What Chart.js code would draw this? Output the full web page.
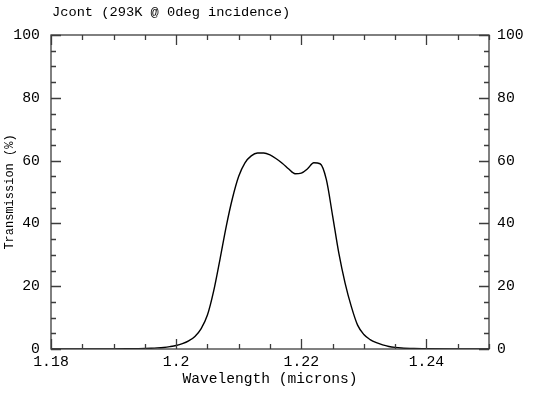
<!DOCTYPE html>
<html>
<head>
<meta charset="utf-8">
<script src="https://cdn.jsdelivr.net/npm/chart.js@4"></script>
<style>
html, body { margin: 0; padding: 0; background: #fff; }
#wrap { width: 536px; height: 395px; }
</style>
</head>
<body>
<div id="wrap"><canvas id="chart"></canvas></div>
<script>
const chartTitle = 'Jcont (293K @ 0deg incidence)';

const wavelength = [
	1.180, 1.185, 1.190, 1.192, 1.194, 1.196, 1.197, 1.198, 1.199,
	1.200, 1.201, 1.202, 1.203, 1.204, 1.205, 1.206, 1.207, 1.208, 1.209,
	1.210, 1.211, 1.212, 1.213, 1.214, 1.215, 1.216, 1.217, 1.218, 1.219,
	1.220, 1.221, 1.222, 1.223, 1.224, 1.225, 1.226, 1.227, 1.228, 1.229,
	1.230, 1.231, 1.232, 1.233, 1.234, 1.235, 1.236, 1.238, 1.240, 1.245, 1.250,
];
const transmission = [
	0, 0, 0.03, 0.07, 0.13, 0.25, 0.35, 0.5, 0.75,
	1.1, 1.7, 2.6, 4.0, 6.5, 10.8, 18.5, 28.5, 39.0, 48.0,
	55.0, 59.3, 61.5, 62.4, 62.4, 61.8, 60.6, 59.1, 57.3, 55.8,
	56.0, 57.4, 59.3, 59.0, 54.0, 42.5, 30.5, 21.0, 13.5, 7.6,
	4.6, 3.0, 2.0, 1.3, 0.8, 0.5, 0.32, 0.15, 0.08, 0.02, 0,
];

const xTicks = [1.18, 1.20, 1.22, 1.24];
const yTicks = [0, 20, 40, 60, 80, 100];
const xMinorStep = 0.005;
const yMinorStep = 5;

const mono = '"Liberation Mono", "DejaVu Sans Mono", monospace';

// box round the plot, with inward major and minor ticks on all four sides
const framePlugin = {
	id: 'frame',
	afterDatasetsDraw(chart) {
		const { ctx, chartArea: a, scales } = chart;
		const x = scales.x;
		const y = scales.y;
		ctx.save();
		ctx.strokeStyle = '#3c3c3c';
		ctx.lineWidth = 1.3;
		ctx.strokeRect(a.left, a.top, a.right - a.left, a.bottom - a.top);

		ctx.beginPath();
		for (let i = 0; ; i++) {
			const v = x.min + i * xMinorStep;
			if (v > x.max + 1e-9) break;
			const px = Math.round(x.getPixelForValue(v)) + 0.5;
			const major = xTicks.some(t => Math.abs(t - v) < 1e-6);
			const len = major ? 10 : 5;
			ctx.moveTo(px, a.bottom);
			ctx.lineTo(px, a.bottom - len);
			ctx.moveTo(px, a.top);
			ctx.lineTo(px, a.top + len);
		}
		for (let i = 0; ; i++) {
			const v = y.min + i * yMinorStep;
			if (v > y.max + 1e-9) break;
			const py = Math.round(y.getPixelForValue(v)) + 0.5;
			const major = yTicks.includes(v);
			const len = major ? 10 : 5;
			ctx.moveTo(a.left, py);
			ctx.lineTo(a.left + len, py);
			ctx.moveTo(a.right, py);
			ctx.lineTo(a.right - len, py);
		}
		ctx.stroke();

		ctx.fillStyle = '#000';
		ctx.font = '13.7px ' + mono;
		ctx.textBaseline = 'middle';
		ctx.textAlign = 'left';
		ctx.fillText(chartTitle, 52, 12);
		ctx.restore();
	},
};

const tickFont = { family: mono, size: 14.8 };

new Chart(document.getElementById('chart'), {
	type: 'line',
	data: {
		datasets: [
			{
				data: wavelength.map((w, i) => ({ x: w, y: transmission[i] })),
				borderColor: '#000',
				borderWidth: 1.4,
				pointRadius: 0,
				fill: false,
				cubicInterpolationMode: 'monotone',
			},
		],
	},
	options: {
		responsive: true,
		maintainAspectRatio: false,
		animation: false,
		layout: { padding: { top: 35, left: 0, right: 0, bottom: 0 } },
		plugins: {
			legend: { display: false },
			tooltip: { enabled: false },
		},
		scales: {
			x: {
				type: 'linear',
				min: 1.18,
				max: 1.25,
				grid: { display: false, drawTicks: false },
				border: { display: false },
				afterBuildTicks: s => { s.ticks = xTicks.map(v => ({ value: v })); },
				afterFit: s => { s.height = 46; },
				ticks: {
					font: tickFont,
					color: '#000',
					padding: 4,
					maxRotation: 0,
					autoSkip: false,
					callback: v => String(Number(v.toFixed(2))),
				},
				title: {
					display: true,
					text: 'Wavelength (microns)',
					font: { family: mono, size: 14.6 },
					color: '#000',
					padding: { top: 0, bottom: 7 },
				},
			},
			y: {
				type: 'linear',
				position: 'left',
				min: 0,
				max: 100,
				grid: { display: false, drawTicks: false },
				border: { display: false },
				afterBuildTicks: s => { s.ticks = yTicks.map(v => ({ value: v })); },
				afterFit: s => { s.width = 51; },
				ticks: { font: tickFont, color: '#000', padding: 11 },
				title: {
					display: true,
					text: 'Transmission (%)',
					font: { family: mono, size: 12 },
					color: '#000',
					padding: { top: 3, bottom: 0 },
				},
			},
			y2: {
				type: 'linear',
				position: 'right',
				min: 0,
				max: 100,
				grid: { display: false, drawTicks: false },
				border: { display: false },
				afterBuildTicks: s => { s.ticks = yTicks.map(v => ({ value: v })); },
				afterFit: s => { s.width = 47; },
				ticks: { font: tickFont, color: '#000', padding: 8 },
			},
		},
	},
	plugins: [framePlugin],
});
</script>
</body>
</html>
